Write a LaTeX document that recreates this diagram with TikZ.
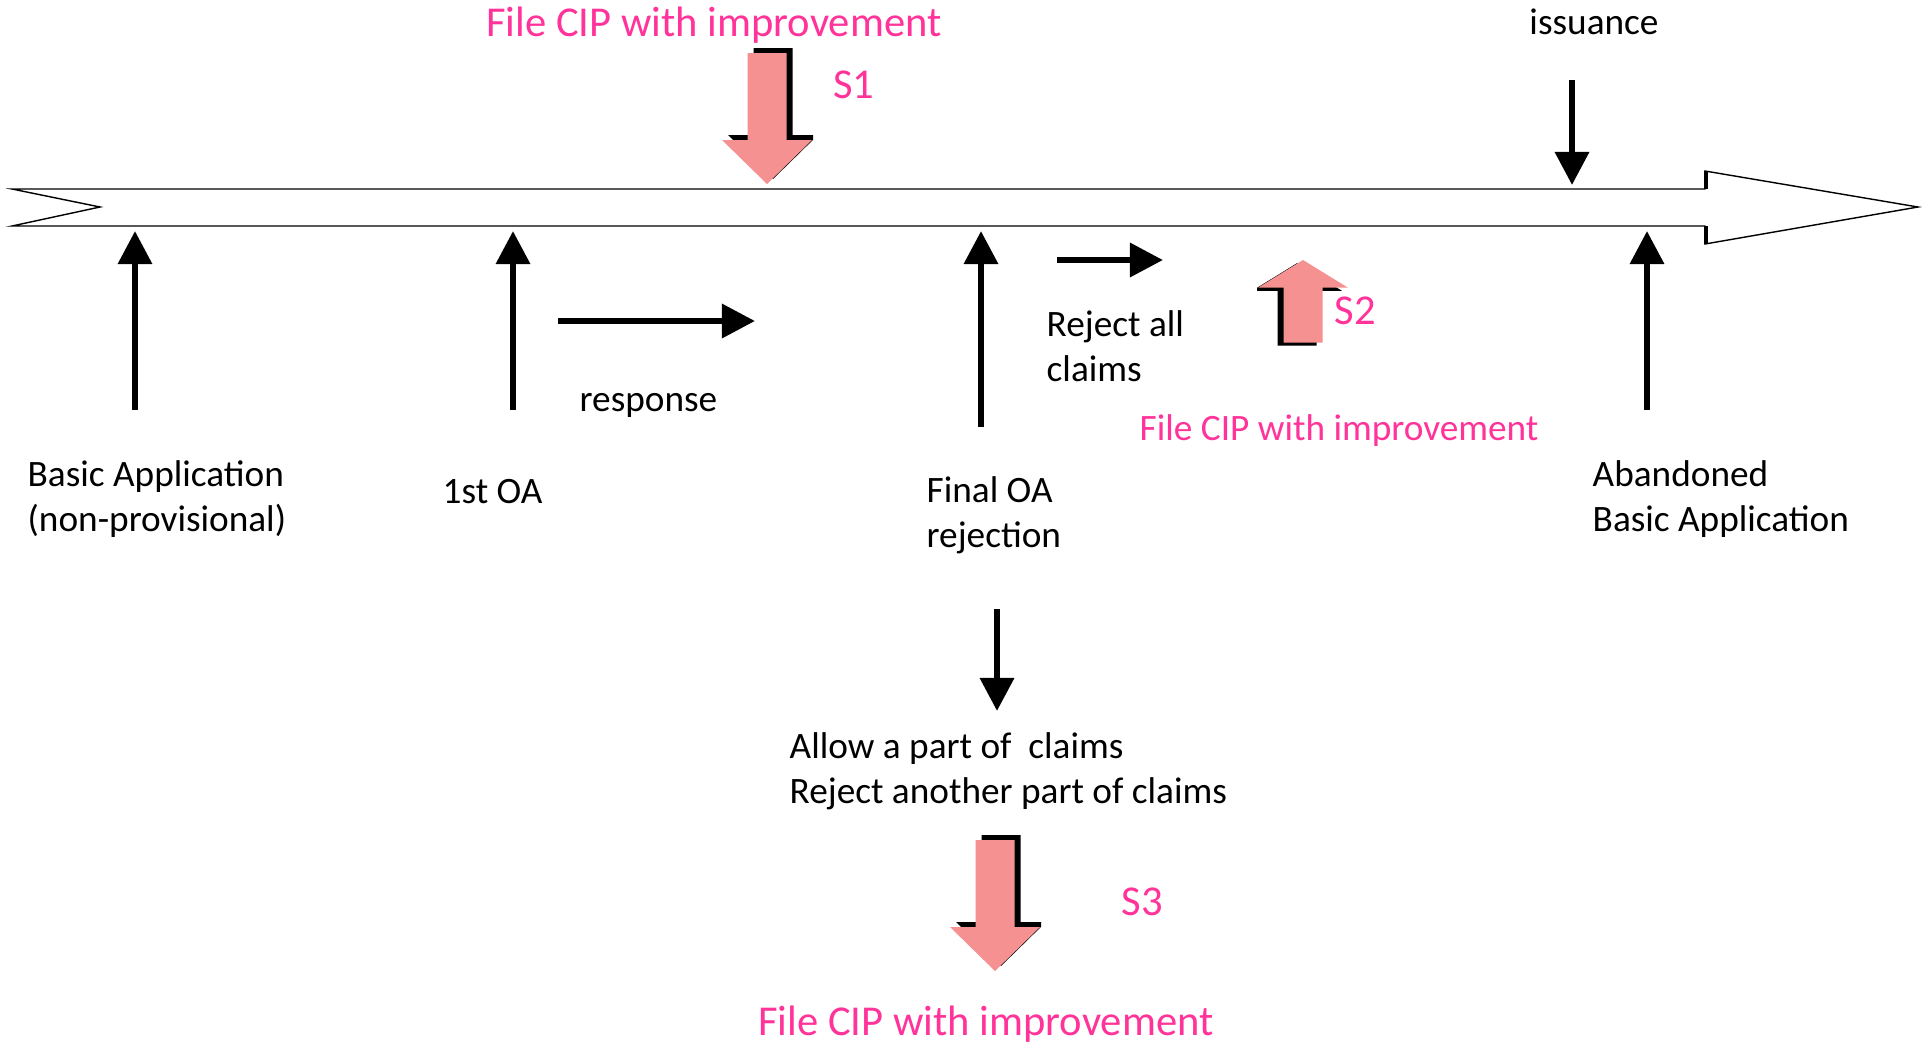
\documentclass[tikz,border=0pt]{standalone}
\usepackage{fontspec}
\setmainfont{Carlito}
\usetikzlibrary{
  arrows.meta, % for the Triangle arrow tip
  positioning, % for relative placement
}
\definecolor{cippink}{RGB}{255,51,153}
\definecolor{cipfill}{RGB}{245,145,145}
\def\ciparrowpath{(-19.5,-131) -- (19.5,-131) -- (19.5,-44) -- (45,-44) -- (0,0) -- (-45,-44) -- (-19.5,-44) -- cycle}
\tikzset{
  txt/.style={ % style for the black texts
    font=\fontsize{10.6}{12.8}\selectfont,
    align=left, % lines start at the left
    inner sep=0pt,
  },
  cip/.style={ % pink text
    txt,
    text=cippink,
  },
  cipbig/.style={ % larger pink text
    cip,
    font=\fontsize{12.1}{14.5}\selectfont,
  },
  evt/.style={ % black arrows of the events
    -{Triangle[width=9.4pt,length=9.4pt]},
    line width=1.8pt,
  },
  timeline/.style={ % the long hollow arrow
    draw,line width=0.4pt,fill=white,
  },
  cip arrow/.pic={ % pink block arrow with its shadow, tip at the origin
    \begin{scope}
      \clip (-45,-136) rectangle (46,1);
      \fill[black,shift={(6,-5)}] \ciparrowpath;
      \fill[cipfill] \ciparrowpath;
    \end{scope}
  },
}
\begin{document}
\begin{tikzpicture}[x=0.01cm,y=-0.01cm]
  \useasboundingbox (0,0) rectangle (1930,1045);

  % time line
  \draw[timeline] (12,189) -- (1705,189) -- (1705,171) -- (1918,207) -- (1705,244) -- (1705,226) -- (12,226) -- (100,207) -- cycle;
  \draw[line width=1.2pt] (1706,189) -- (1706,171) (1706,226) -- (1706,244);

  % texts
  \node[cipbig] (topcip) at (714,25) {File CIP with improvement};
  \node[cipbig] (s1) at (854,85) {S1};
  \node[txt] (issuance) at (1594,22) {issuance};
  \node[txt,anchor=west] (basic) at (27,499) {Basic Application\\(non-provisional)};
  \node[txt,anchor=west] (firstoa) at (442,492) {1st OA};
  \node[txt,anchor=west] (response) at (579,405) {response};
  \node[txt,anchor=west] (finaloa) at (926,515) {Final OA\\rejection};
  \node[txt,anchor=west] (rejectall) at (1046,346) {Reject all\\claims};
  \node[cipbig,anchor=west] (s2) at (1334,311) {S2};
  \node[cip,anchor=west] (midcip) at (1139,431) {File CIP with improvement};
  \node[txt,anchor=west] (abandoned) at (1592,499) {Abandoned\\Basic Application};
  \node[txt,anchor=west] (allow) at (789,771) {Allow a part of~~claims\\Reject another part of claims};
  \node[cipbig,anchor=west] (s3) at (1121,902) {S3};
  \node[cipbig] (botcip) at (986,1024) {File CIP with improvement};

  % feet and tips of the arrows
  \coordinate (basicfoot) at (135,410);
  \coordinate (basictip) at (135,231);
  \coordinate (firstfoot) at (513,410);
  \coordinate (firsttip) at (513,231);
  \coordinate (finalfoot) at (981,427);
  \coordinate (finaltip) at (981,231);
  \coordinate (abanfoot) at (1647,410);
  \coordinate (abantip) at (1647,231);
  \coordinate (issuefoot) at (1572,80);
  \coordinate (issuetip) at (1572,185);
  \coordinate (respfoot) at (558,321);
  \coordinate (resptip) at (755,321);
  \coordinate (rejfoot) at (1057,260);
  \coordinate (rejtip) at (1163,260);
  \coordinate (allowfoot) at (997,609);
  \coordinate (allowtip) at (997,711);

  \draw[evt] (basicfoot) -- (basictip);
  \draw[evt] (firstfoot) -- (firsttip);
  \draw[evt] (finalfoot) -- (finaltip);
  \draw[evt] (abanfoot) -- (abantip);
  \draw[evt] (issuefoot) -- (issuetip);
  \draw[evt] (respfoot) -- (resptip);
  \draw[evt] (rejfoot) -- (rejtip);
  \draw[evt] (allowfoot) -- (allowtip);

  % pink block arrows
  \pic at (767,184) {cip arrow};
  \pic[xscale=-1,yscale=-0.63] at (1303,260) {cip arrow};
  \pic at (995,971) {cip arrow};
\end{tikzpicture}
\end{document}
